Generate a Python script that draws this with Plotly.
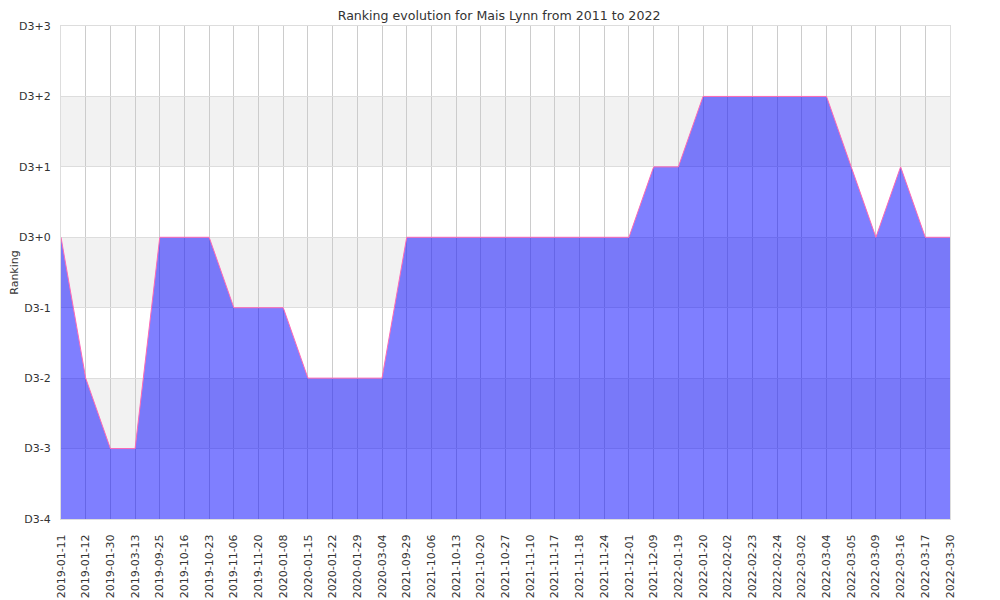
import plotly.graph_objects as go

dates = ["2019-01-11", "2019-01-12", "2019-01-30", "2019-03-13", "2019-09-25", "2019-10-16",
         "2019-10-23", "2019-11-06", "2019-11-20", "2020-01-08", "2020-01-15", "2020-01-22",
         "2020-01-29", "2020-03-04", "2021-09-29", "2021-10-06", "2021-10-13", "2021-10-20",
         "2021-10-27", "2021-11-10", "2021-11-17", "2021-11-18", "2021-11-24", "2021-12-01",
         "2021-12-09", "2022-01-19", "2022-01-20", "2022-02-02", "2022-02-23", "2022-02-24",
         "2022-03-02", "2022-03-04", "2022-03-05", "2022-03-09", "2022-03-16", "2022-03-17",
         "2022-03-30"]
ranking = [0, -2, -3, -3, 0, 0, 0, -1, -1, -1, -2, -2, -2, -2, 0, 0, 0, 0, 0, 0, 0, 0, 0, 0,
           1, 1, 2, 2, 2, 2, 2, 2, 1, 0, 1, 0, 0]
tick_vals = [-4, -3, -2, -1, 0, 1, 2, 3]
tick_text = ["D3-4", "D3-3", "D3-2", "D3-1", "D3+0", "D3+1", "D3+2", "D3+3"]
band_ranges = [(1, 2), (-1, 0), (-3, -2)]
baseline = -4

fig = go.Figure()
fig.add_trace(go.Scatter(x=dates, y=[baseline] * len(dates), mode="lines",
                         line=dict(width=0, color="rgba(0,0,0,0)"), hoverinfo="skip",
                         showlegend=False))
fig.add_trace(go.Scatter(x=dates, y=ranking, mode="lines", fill="tonexty",
                         fillcolor="rgba(0,0,255,0.5)",
                         line=dict(color="#ff69b4", width=1), showlegend=False))

for lo, hi in band_ranges:
    fig.add_shape(type="rect", xref="paper", yref="y", x0=0, x1=1, y0=lo, y1=hi,
                  fillcolor="#f2f2f2", line=dict(width=0), layer="below")

fig.update_layout(
    width=992, height=592,
    margin=dict(l=53, r=50, t=18, b=81),
    paper_bgcolor="white", plot_bgcolor="white",
    font=dict(family="DejaVu Sans", size=11, color="#333"),
    title=dict(text="Ranking evolution for Mais Lynn from 2011 to 2022",
               x=0.495, xanchor="center", y=1 - 7.5 / 592, yanchor="middle",
               font=dict(size=12.6, color="#333")),
    xaxis=dict(type="category", range=[0, len(dates) - 1], tickangle=-90,
               showgrid=True, gridcolor="#cccccc", gridwidth=1, ticks="",
               showline=True, mirror=True, linecolor="#dddddd", zeroline=False,
               automargin=False, ticklabelstandoff=10,
               tickfont=dict(size=11, color="#333")),
    yaxis=dict(range=[-4, 3], tickvals=tick_vals, ticktext=tick_text,
               showgrid=True, gridcolor="#dddddd", gridwidth=1, zeroline=False,
               showline=True, mirror=True, linecolor="#dddddd",
               automargin=False, ticks="", ticklabelstandoff=7,
               title=dict(text="Ranking", font=dict(size=11), standoff=8),
               tickfont=dict(size=11, color="#333")),
)

fig.write_html("out.html")
